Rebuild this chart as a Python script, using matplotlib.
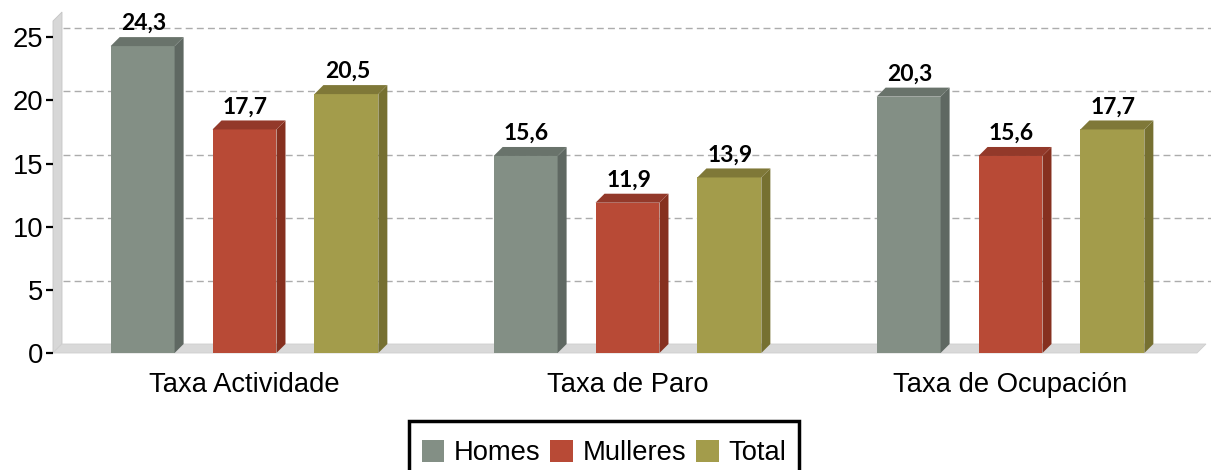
import matplotlib
matplotlib.use('Agg')
import matplotlib.pyplot as plt
import matplotlib.transforms as mtransforms
from matplotlib.patches import Polygon, Patch, Rectangle
import numpy as np

# Data
categories = ['Taxa Actividade', 'Taxa de Paro', 'Taxa de Ocupación']
series = ['Homes', 'Mulleres', 'Total']
homes = [24.3, 15.6, 20.3]
mulleres = [17.7, 11.9, 15.6]
total = [20.5, 13.9, 17.7]
yticks = [0, 5, 10, 15, 20, 25]

front_colors = ['#838f85', '#b84a36', '#a39c4b']
side_colors = ['#5f6862', '#86301f', '#767031']
top_colors = ['#69736b', '#93392a', '#7f7838']

DPI = 100
W, H = 1211, 470
DEPTH = 9  # depth of the pseudo-3D faces, in pixels
FS = 19.7

plt.rcParams['font.family'] = ['Liberation Sans', 'DejaVu Sans']

fig = plt.figure(figsize=(W / DPI, H / DPI), dpi=DPI)
ax = fig.add_axes([63 / W, (H - 353) / H, (W - 63) / W, (353 - 12) / H])
ax.set_xlim((63 - 244.5) / 383, (W - 244.5) / 383)
ax.set_ylim(0, 27)
ax.set_facecolor('none')

for s in ax.spines.values():
    s.set_visible(False)
ax.spines['left'].set_position(('outward', 7.2))

ident = mtransforms.IdentityTransform()

# left wall and floor
x0_px, y0_px = ax.transData.transform((ax.get_xlim()[0], 0))
top_px = ax.transData.transform((0, ax.get_ylim()[1]))[1]
right_px = W - 5
wall = Polygon([(x0_px - 10, y0_px), (x0_px - 10, top_px - DEPTH),
                (x0_px - 1, top_px), (x0_px - 1, y0_px + DEPTH)],
               closed=True, facecolor='#d7d7d7', edgecolor='#c4c4c4', lw=0.6,
               transform=ident, zorder=1, clip_on=False)
floor = Polygon([(x0_px - 10, y0_px), (x0_px - 1, y0_px + DEPTH),
                 (right_px, y0_px + DEPTH), (right_px - DEPTH, y0_px)],
                closed=True, facecolor='#d9d9d9', edgecolor='#cfcfcf', lw=0.6,
                transform=ident, zorder=1, clip_on=False)
ax.add_artist(wall)
ax.add_artist(floor)

# dashed gridlines on the back wall
grid_tr = mtransforms.offset_copy(ax.get_yaxis_transform(), fig=fig,
                                  x=0, y=DEPTH, units='dots')
for v in yticks[1:]:
    ax.plot([0, 1], [v, v], transform=grid_tr, color='#acacac', lw=1,
            linestyle=(0, (5, 3)), zorder=0.5)

# bars
x = np.arange(len(categories))
width = 0.167
offset = 0.266
for i, (vals, fc, sc, tc) in enumerate(zip([homes, mulleres, total],
                                           front_colors, side_colors, top_colors)):
    bars = ax.bar(x + (i - 1) * offset, vals, width, color=fc, zorder=3)
    for rect, v in zip(bars, vals):
        (bx0, by0), (bx1, by1) = ax.transData.transform(
            [(rect.get_x(), 0), (rect.get_x() + rect.get_width(), v)])
        side = Polygon([(bx1, by0), (bx1 + DEPTH, by0 + DEPTH),
                        (bx1 + DEPTH, by1 + DEPTH), (bx1, by1)],
                       closed=True, facecolor=sc, edgecolor='none',
                       transform=ident, zorder=3, clip_on=False)
        top = Polygon([(bx0, by1), (bx1, by1), (bx1 + DEPTH, by1 + DEPTH),
                       (bx0 + DEPTH, by1 + DEPTH)],
                      closed=True, facecolor=tc, edgecolor='none',
                      transform=ident, zorder=3, clip_on=False)
        ax.add_artist(side)
        ax.add_artist(top)
        ax.annotate(f'{v:.1f}'.replace('.', ','),
                    xy=(rect.get_x() + rect.get_width() / 2, v),
                    xytext=(1, DEPTH + 7), textcoords='offset pixels',
                    ha='center', va='baseline', fontsize=16.5,
                    family=['Lato', 'DejaVu Sans'], fontweight='bold',
                    color='black', annotation_clip=False, zorder=4)

ax.set_yticks(yticks)
ax.tick_params(axis='y', length=5, width=1.6, pad=2, labelsize=FS,
               color='black')
ax.set_xticks(x, categories)
ax.tick_params(axis='x', length=0, pad=14, labelsize=FS)

# legend entries, with a box drawn around them separately (extra top padding)
handles = [Patch(facecolor=c, edgecolor='none') for c in front_colors]
leg = fig.legend(handles, series, loc='upper center',
                 bbox_to_anchor=(604 / W, 1 - 428 / H), ncol=3, fontsize=FS,
                 frameon=False, handlelength=0.82, handleheight=0.82,
                 handletextpad=0.36, columnspacing=0.36, borderpad=0.45,
                 borderaxespad=0)
fig.canvas.draw()
bb = leg.get_window_extent()
box_top = bb.y1 + 7
fig.patches.append(Rectangle((bb.x0, -20), bb.width, box_top + 20,
                             facecolor='none', edgecolor='black', lw=2.5,
                             transform=ident, figure=fig))

fig.savefig('out.png', dpi=DPI)
